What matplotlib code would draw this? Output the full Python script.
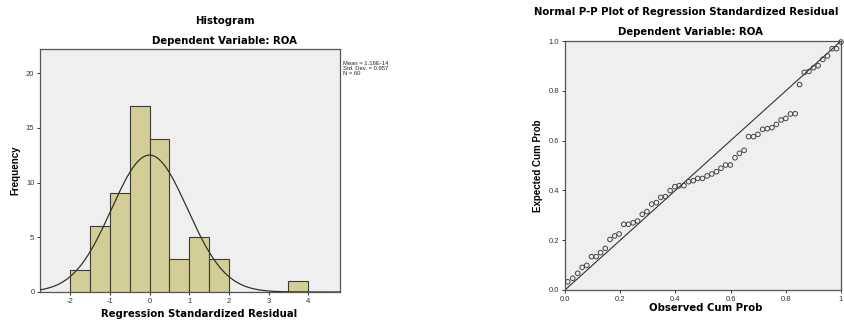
import numpy as np
import matplotlib
matplotlib.use("Agg")
import matplotlib.pyplot as plt

# ---- Histogram data ----
bin_edges = [-2.0, -1.5, -1.0, -0.5, 0.0, 0.5, 1.0, 1.5, 2.0, 2.5, 3.0, 3.5, 4.0]
bin_counts = [2, 6, 9, 17, 14, 3, 5, 3, 0, 0, 0, 1]
hist_mean = 0.0
hist_sd = 0.957
hist_n = 60
hist_xticks = [-2, -1, 0, 1, 2, 3, 4]
hist_yticks = [0, 5, 10, 15, 20]

# ---- P-P plot data ----
observed_cum = [0.010, 0.028, 0.046, 0.062, 0.079, 0.096, 0.113, 0.129, 0.146, 0.163,
                0.180, 0.196, 0.213, 0.230, 0.247, 0.263, 0.280, 0.297, 0.314, 0.331,
                0.347, 0.364, 0.381, 0.398, 0.414, 0.431, 0.448, 0.465, 0.481, 0.498,
                0.515, 0.532, 0.549, 0.565, 0.582, 0.599, 0.616, 0.632, 0.649, 0.665,
                0.683, 0.699, 0.716, 0.733, 0.750, 0.766, 0.783, 0.800, 0.817, 0.834,
                0.850, 0.867, 0.884, 0.901, 0.917, 0.934, 0.951, 0.968, 0.984, 1.000]
expected_cum = [0.033, 0.047, 0.067, 0.091, 0.099, 0.134, 0.134, 0.150, 0.167, 0.203,
                0.217, 0.225, 0.264, 0.264, 0.270, 0.277, 0.304, 0.315, 0.345, 0.351,
                0.372, 0.375, 0.399, 0.415, 0.419, 0.419, 0.435, 0.439, 0.448, 0.448,
                0.458, 0.466, 0.475, 0.489, 0.502, 0.502, 0.531, 0.549, 0.561, 0.616,
                0.616, 0.625, 0.645, 0.648, 0.652, 0.665, 0.683, 0.689, 0.707, 0.708,
                0.825, 0.874, 0.878, 0.893, 0.901, 0.926, 0.940, 0.969, 0.969, 0.996]
pp_ticks = [0.0, 0.2, 0.4, 0.6, 0.8, 1.0]
pp_ticklabels = ["0.0", "0.2", "0.4", "0.6", "0.8", "1"]

BG = "#EFEFEF"
BAR = "#D3CE98"
EDGE = "#3C3C30"
FRAME = "#555555"

plt.rcParams['font.family'] = ['Liberation Sans', 'DejaVu Sans']
plt.rcParams['axes.unicode_minus'] = False
WIDE = ['DejaVu Sans']

W, H = 844, 320
fig = plt.figure(figsize=(W / 100, H / 100), dpi=100)
fig.patch.set_facecolor("white")


def style_axes(ax):
    ax.set_facecolor(BG)
    for s in ax.spines.values():
        s.set_color(FRAME)
        s.set_linewidth(0.9)
    ax.tick_params(axis='both', direction='out', length=2.5, width=0.7,
                   colors="#333333", labelsize=5.5, pad=1.5)


# ---- Histogram ----
ax1 = fig.add_axes([40 / W, (H - 292) / H, 300 / W, (292 - 49) / H])
style_axes(ax1)
ax1.bar(bin_edges[:-1], bin_counts, width=np.diff(bin_edges), align='edge',
        color=BAR, edgecolor=EDGE, linewidth=0.8, zorder=2)
xs = np.linspace(-2.76, 4.8, 400)
bw = bin_edges[1] - bin_edges[0]
pdf = hist_n * bw * np.exp(-0.5 * ((xs - hist_mean) / hist_sd) ** 2) / (hist_sd * np.sqrt(2 * np.pi))
ax1.plot(xs, pdf, color="#333326", linewidth=0.9, zorder=3)
ax1.set_xlim(-2.76, 4.8)
ax1.set_ylim(0, 22.2)
ax1.set_xticks(hist_xticks)
ax1.set_yticks(hist_yticks)
ax1.set_ylabel("Frequency", fontsize=7, fontweight='bold', labelpad=4)
fig.text(199 / W, 1 - 314 / H, "Regression Standardized Residual", ha='center', va='center',
         fontsize=7.3, fontweight='bold', family=WIDE)
fig.text(225 / W, 1 - 21 / H, "Histogram", ha='center', va='center',
         fontsize=7.3, fontweight='bold', family=WIDE)
fig.text(225 / W, 1 - 41 / H, "Dependent Variable: ROA", ha='center', va='center',
         fontsize=7.3, fontweight='bold', family=WIDE)
fig.text(343 / W, 1 - 61 / H,
         "Mean = 1.16E-14\nStd. Dev. = 0.957\nN = 60",
         ha='left', va='top', fontsize=4.2, linespacing=1.05, color="#222222")

# ---- P-P plot ----
ax2 = fig.add_axes([565 / W, (H - 290) / H, (841 - 565) / W, (290 - 41) / H])
style_axes(ax2)
ax2.plot([0, 1], [0, 1], color="#333333", linewidth=0.8, zorder=2)
ax2.scatter(observed_cum, expected_cum, s=11, facecolors='none',
            edgecolors="#444444", linewidths=0.7, zorder=3, clip_on=False)
ax2.set_xlim(0, 1)
ax2.set_ylim(0, 1)
ax2.set_xticks(pp_ticks)
ax2.set_yticks(pp_ticks)
ax2.set_xticklabels(pp_ticklabels)
ax2.set_yticklabels([f"{t:.1f}" for t in pp_ticks])
ax2.set_ylabel("Expected Cum Prob", fontsize=7, fontweight='bold', labelpad=4)
fig.text(706 / W, 1 - 308 / H, "Observed Cum Prob", ha='center', va='center',
         fontsize=7.3, fontweight='bold', family=WIDE)
fig.text(686 / W, 1 - 12 / H, "Normal P-P Plot of Regression Standardized Residual",
         ha='center', va='center', fontsize=7.3, fontweight='bold', family=WIDE)
fig.text(691 / W, 1 - 32 / H, "Dependent Variable: ROA", ha='center', va='center',
         fontsize=7.3, fontweight='bold', family=WIDE)

fig.savefig("out.png", dpi=100, facecolor="white")
